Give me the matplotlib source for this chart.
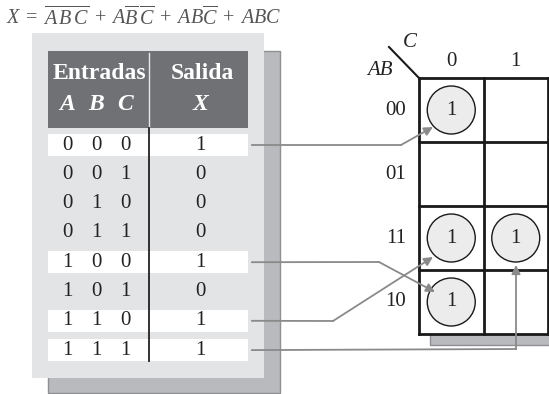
import matplotlib
matplotlib.use("Agg")
import matplotlib.pyplot as plt
from matplotlib.patches import Rectangle, Circle

plt.rcParams['font.family'] = ['Liberation Serif', 'DejaVu Serif']
plt.rcParams['mathtext.fontset'] = 'custom'
plt.rcParams['mathtext.rm'] = 'Liberation Serif'
plt.rcParams['mathtext.it'] = 'Liberation Serif:italic'

# truth table
A = [0, 0, 0, 0, 1, 1, 1, 1]
B = [0, 0, 1, 1, 0, 0, 1, 1]
C = [0, 1, 0, 1, 0, 1, 0, 1]
X = [1, 0, 0, 0, 1, 0, 1, 1]

# Karnaugh map labels (Gray code order)
kmap_rows = ['00', '01', '11', '10']
kmap_cols = ['0', '1']

title = (r'$X\; =\; \overline{A}\,\overline{B}\,\overline{C}\; +\; A\overline{B}\,\overline{C}'
         r'\; +\; AB\overline{C}\; +\; ABC$')

fig = plt.figure(figsize=(5.49, 3.94), dpi=100)
ax = fig.add_axes([0, 0, 1, 1])
ax.set_xlim(0, 549)
ax.set_ylim(394, 0)
ax.axis('off')

ax.text(6, 18, title, fontsize=14.5, color='#555555', va='center', ha='left')

# table panel with shadow
ax.add_patch(Rectangle((48, 51), 232, 342, facecolor='#b9babd', edgecolor='#8e8f92', lw=1))
ax.add_patch(Rectangle((32, 33), 232, 345, facecolor='#e3e4e6', edgecolor='none'))

# header
ax.add_patch(Rectangle((48, 51), 200, 77, facecolor='#707174', edgecolor='none'))
ax.plot([149, 149], [53, 128], color='#e8e8e8', lw=1)
ax.text(99, 73, 'Entradas', fontsize=17, fontweight='bold', color='white', ha='center', va='center')
ax.text(202, 73, 'Salida', fontsize=17, fontweight='bold', color='white', ha='center', va='center')
col_x = [67, 96, 125]
for x, lab in zip(col_x, ['A', 'B', 'C']):
    ax.text(x, 104, lab, fontsize=17, fontweight='bold', style='italic', color='white',
            ha='center', va='center')
ax.text(200, 104, 'X', fontsize=17, fontweight='bold', style='italic', color='white',
        ha='center', va='center')

row_y0, row_dy = 145, 29.3
for i in range(len(X)):
    y = row_y0 + i * row_dy
    if X[i] == 1:
        ax.add_patch(Rectangle((48, y - 11), 200, 22, facecolor='white', edgecolor='none'))
    for x, v in zip(col_x, [A[i], B[i], C[i]]):
        ax.text(x, y, str(v), fontsize=15, color='#222222', ha='center', va='center')
    ax.text(200, y, str(X[i]), fontsize=15, color='#222222', ha='center', va='center')
ax.plot([149, 149], [128, 361], color='#222222', lw=1.3)

# Karnaugh map
gx, gy, cw, ch = 419, 78, 64.5, 64
ax.add_patch(Rectangle((gx + 11, gy + 4 * ch), 2 * cw, 11, facecolor='#b9babd',
                       edgecolor='#8e8f92', lw=1, zorder=1))
for r in range(5):
    ax.plot([gx, gx + 2 * cw], [gy + r * ch] * 2, color='#1a1a1a', lw=2, zorder=3)
for c in range(3):
    ax.plot([gx + c * cw] * 2, [gy, gy + 4 * ch], color='#1a1a1a', lw=2, zorder=3)
ax.add_patch(Rectangle((gx, gy), 2 * cw, 4 * ch, facecolor='white', edgecolor='none', zorder=2))

ax.plot([389, gx], [47, gy], color='#1a1a1a', lw=1.5)
ax.text(410, 42, 'C', fontsize=15, style='italic', color='#222222', ha='center', va='center')
ax.text(380, 70, 'AB', fontsize=15, style='italic', color='#222222', ha='center', va='center')
for c, lab in enumerate(kmap_cols):
    ax.text(gx + (c + 0.5) * cw, 61, lab, fontsize=15, color='#222222', ha='center', va='center')
for r, lab in enumerate(kmap_rows):
    ax.text(396, gy + (r + 0.5) * ch, lab, fontsize=15, color='#222222', ha='center', va='center')

for i in range(len(X)):
    if X[i] == 1:
        r = kmap_rows.index(f'{A[i]}{B[i]}')
        c = C[i]
        cx, cy = gx + (c + 0.5) * cw, gy + (r + 0.5) * ch
        ax.add_patch(Circle((cx, cy), 24, facecolor='#ececec', edgecolor='#1a1a1a', lw=1, zorder=4))
        ax.text(cx, cy, str(X[i]), fontsize=15, color='#222222', ha='center', va='center', zorder=5)

# connectors: row -> elbow, arrow tip
lc = '#8a8a8a'
paths = {
    0: [(401, 145), (433, 127)],
    4: [(379, 262), (435, 292)],
    6: [(333, 321), (433, 257)],
    7: [(516, 349), (516, 265)],
}
for i, pts in paths.items():
    y = row_y0 + i * row_dy
    (ex, ey), tip = pts
    ax.plot([252, ex], [y, ey], color=lc, lw=1.3, zorder=6)
    ax.annotate('', xy=tip, xytext=(ex, ey),
                arrowprops=dict(arrowstyle='-|>', color=lc, lw=1.3, mutation_scale=13,
                                shrinkA=0, shrinkB=0), zorder=6)

fig.savefig('out.png', dpi=100)
